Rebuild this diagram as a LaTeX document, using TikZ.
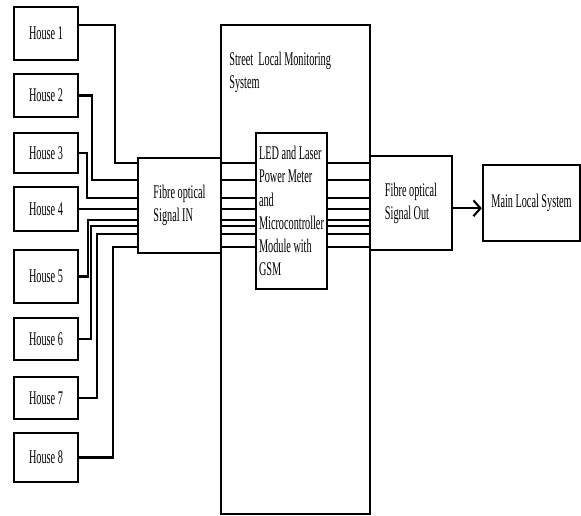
\documentclass[tikz,border=0pt]{standalone}
\usepackage{fontspec}
\setmainfont{Liberation Serif}[FakeStretch=0.53]
\usetikzlibrary{arrows.meta}

\begin{document}
\begin{tikzpicture}[
    x=0.02cm, y=-0.02cm,
    box/.style={draw, line width=1.3pt, inner sep=0pt, align=left, font=\fontsize{11}{13.2}\selectfont},
    house/.style={box, minimum width=1.28cm},
    wire/.style={line width=1.2pt},
    arr/.style={-{Straight Barb[length=4pt, width=9pt]}, line width=1.2pt}
]
\useasboundingbox (0,0) rectangle (581,516);
\node[house, minimum height=1.06cm] (h1) at (46,33.5) {House 1};
\node[house, minimum height=0.86cm] (h2) at (46,95.5) {House 2};
\node[house, minimum height=0.80cm] (h3) at (46,153) {House 3};
\node[house, minimum height=0.88cm] (h4) at (46,209) {House 4};
\node[house, minimum height=1.06cm] (h5) at (46,276.5) {House 5};
\node[house, minimum height=0.84cm] (h6) at (46,339) {House 6};
\node[house, minimum height=0.84cm] (h7) at (46,398) {House 7};
\node[house, minimum height=0.98cm] (h8) at (46,457.5) {House 8};
\node[box, minimum width=2.98cm, minimum height=9.78cm] (street) at (295.5,269.5) {};
\node[font=\fontsize{11}{13.2}\selectfont, anchor=north west, align=left, inner sep=0pt] (stname) at (229,52)
      {Street\ \ Local Monitoring\\System};
\node[box, minimum width=1.66cm, minimum height=1.90cm] (sigin) at (179.5,205.5) {Fibre optical\\Signal IN};
\node[box, minimum width=1.42cm, minimum height=3.12cm] (led) at (291.5,211)
      {LED and Laser\\Power Meter\\and\\Microcontroller\\Module with\\GSM};
\node[box, minimum width=1.64cm, minimum height=1.88cm] (sigout) at (411,203) {Fibre optical\\Signal Out};
\node[box, minimum width=1.94cm, minimum height=1.52cm] (main) at (531.5,203) {Main Local System};
\coordinate (l1) at (0,163);
\coordinate (l2) at (0,180);
\coordinate (l3) at (0,198);
\coordinate (l4) at (0,209);
\coordinate (l5) at (0,220);
\coordinate (l6) at (0,226);
\coordinate (l7) at (0,234);
\coordinate (l8) at (0,247);
\draw[wire] ([yshift=5pt]h1.east) -- ++(36,0) |- (sigin.west |- l1);
\draw[wire] (h2.east) -- ++(13,0) |- (sigin.west |- l2);
\draw[wire] (h3.east) -- ++(8,0) |- (sigin.west |- l3);
\draw[wire] (h4.east) -- (sigin.west |- l4);
\draw[wire] (h5.east) -- ++(9,0) |- (sigin.west |- l5);
\draw[wire] (h6.east) -- ++(12,0) |- (sigin.west |- l6);
\draw[wire] (h7.east) -- ++(18,0) |- (sigin.west |- l7);
\draw[wire] (h8.east) -- ++(34,0) |- (sigin.west |- l8);
\foreach \i in {1,...,8} {
  \draw[wire] (sigin.east |- l\i) -- (led.west |- l\i);
  \draw[wire] (led.east |- l\i) -- (sigout.west |- l\i);
}
\draw[arr] ([yshift=-3pt]sigout.east) -- ([yshift=-3pt]main.west);
\end{tikzpicture}
\end{document}
